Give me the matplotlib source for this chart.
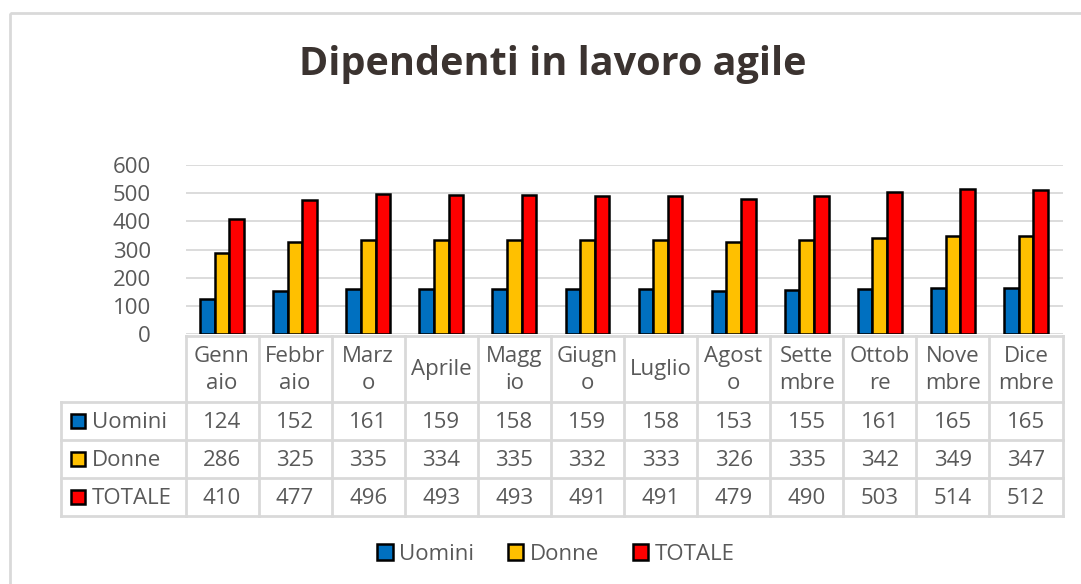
import numpy as np
import matplotlib
matplotlib.use("Agg")
import matplotlib.pyplot as plt
from matplotlib.patches import Rectangle

plt.rcParams['font.family'] = ['Open Sans', 'DejaVu Sans']

# dati
mesi = ["Genn\naio", "Febbr\naio", "Marz\no", "Aprile", "Magg\nio", "Giugn\no",
        "Luglio", "Agost\no", "Sette\nmbre", "Ottob\nre", "Nove\nmbre", "Dice\nmbre"]
uomini = [124, 152, 161, 159, 158, 159, 158, 153, 155, 161, 165, 165]
donne = [286, 325, 335, 334, 335, 332, 333, 326, 335, 342, 349, 347]
totale = [410, 477, 496, 493, 493, 491, 491, 479, 490, 503, 514, 512]
serie = ["Uomini", "Donne", "TOTALE"]
colori = ["#0070C0", "#FFC000", "#FF0000"]

W, H = 1081, 584
grigio = "#595959"
linea = "#d9d9d9"
fs = 16

fig = plt.figure(figsize=(W / 100, H / 100), dpi=100)

# overlay in pixel per cornice e tabella
ov = fig.add_axes([0, 0, 1, 1])
ov.set_xlim(0, W)
ov.set_ylim(H, 0)
ov.axis("off")
ov.add_patch(Rectangle((10, 13), W + 20, H, fill=False, edgecolor=linea, lw=2))

# grafico
x0, x1 = 185.5, 1062.5
ytop, ybot = 165, 334
ax = fig.add_axes([x0 / W, 1 - ybot / H, (x1 - x0) / W, (ybot - ytop) / H])
x = np.arange(len(mesi))
w = 0.2
for i, (vals, c) in enumerate(zip([uomini, donne, totale], colori)):
    ax.bar(x + (i - 1) * w, vals, w, color=c, edgecolor="black", lw=1.8,
           label=serie[i], zorder=3)
ax.set_xlim(-0.5, len(mesi) - 0.5)
ax.set_ylim(0, 600)
ax.set_yticks(range(0, 601, 100))
ax.yaxis.grid(True, color=linea, lw=1.3)
ax.set_axisbelow(True)
for s in ax.spines.values():
    s.set_visible(False)
ax.tick_params(axis="y", length=0, pad=25, labelsize=fs, labelcolor=grigio)
ax.tick_params(axis="x", length=0, labelbottom=False)

# titolo
ov.text(553, 64, "Dipendenti in lavoro agile", fontsize=28.5, fontweight="bold",
        color="#3b3330", ha="center", va="center")

# tabella dati
cw = (x1 - x0) / len(mesi)
lab_x = 61
rows_y = [336, 402, 439.5, 477.5, 516]
lw_t = 2
ov.plot([x0, x1], [rows_y[0], rows_y[0]], color=linea, lw=lw_t)
for j in range(len(mesi) + 1):
    ov.plot([x0 + j * cw] * 2, [rows_y[0], rows_y[-1]], color=linea, lw=lw_t)
for yy in rows_y[1:]:
    ov.plot([lab_x, x1], [yy, yy], color=linea, lw=lw_t)
ov.plot([lab_x, lab_x], [rows_y[1], rows_y[-1]], color=linea, lw=lw_t)

for j, m in enumerate(mesi):
    ov.text(x0 + (j + 0.5) * cw, (rows_y[0] + rows_y[1]) / 2 + 1, m, ha="center",
            va="center", fontsize=fs, color=grigio, linespacing=1.32)

for r, (nome, vals, c) in enumerate(zip(serie, [uomini, donne, totale], colori)):
    yc = (rows_y[r + 1] + rows_y[r + 2]) / 2 + 2
    ov.add_patch(Rectangle((71, yc - 8.5), 14, 14, facecolor=c, edgecolor="black", lw=1.8))
    ov.text(92, yc, nome, ha="left", va="center", fontsize=fs, color=grigio)
    for j, v in enumerate(vals):
        ov.text(x0 + (j + 0.5) * cw, yc, str(v), ha="center", va="center",
                fontsize=fs, color=grigio)

# legenda
leg = fig.legend(loc="center", bbox_to_anchor=(556 / W, 1 - 554 / H), ncol=3,
                 frameon=False, fontsize=fs, handlelength=0.7, handleheight=0.7,
                 handletextpad=0.3, columnspacing=1.5)
for t in leg.get_texts():
    t.set_color(grigio)

fig.savefig("out.png", dpi=100)
